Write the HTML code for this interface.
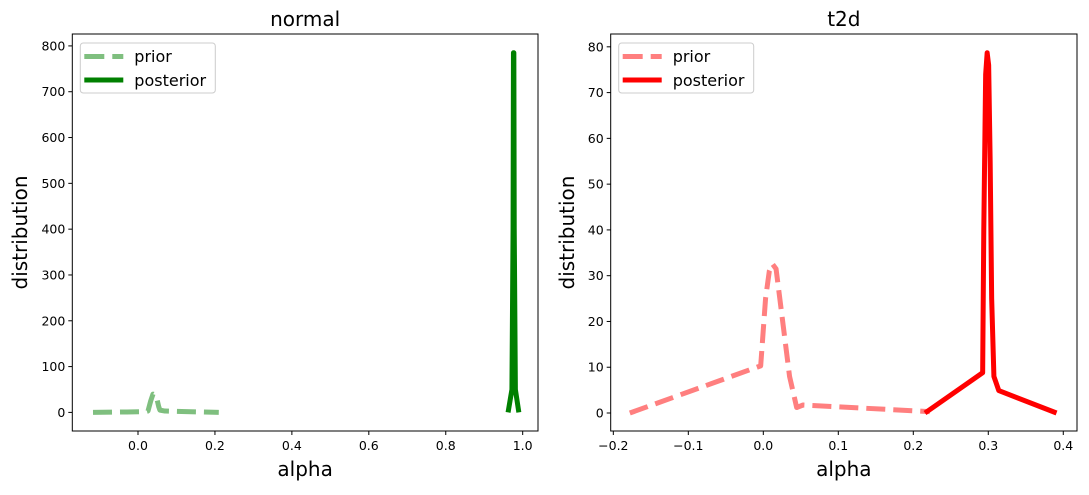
<!DOCTYPE html>
<html><head><meta charset="utf-8"><style>
body{margin:0;background:#fff;font-family:"Liberation Sans","DejaVu Sans",sans-serif}
svg text{font-family:"DejaVu Sans","Liberation Sans",sans-serif}
</style></head><body>
<svg id="chart" width="1089" height="490" viewBox="0 0 1089 490" xmlns="http://www.w3.org/2000/svg"></svg>
<script>
// normal panel data
const normalPriorX = [-0.117, 0.02, 0.026, 0.033, 0.039, 0.045, 0.049, 0.054, 0.057, 0.07, 0.21];
const normalPriorY = [0, 1.5, 3, 25, 40, 37, 30, 12, 5, 3, 0];
const normalPostX = [0.962, 0.972, 0.975, 0.976, 0.977, 0.978, 0.981, 0.99];
const normalPostY = [0, 50, 400, 785, 785, 400, 50, 0];
const normalXTicks = [0.0, 0.2, 0.4, 0.6, 0.8, 1.0];
const normalYTicks = [0, 100, 200, 300, 400, 500, 600, 700, 800];
// t2d panel data
const t2dPriorX = [-0.178, -0.0035, 0.003, 0.008, 0.012, 0.017, 0.022, 0.035, 0.0445, 0.053, 0.222];
const t2dPriorY = [0, 10.3, 25, 31, 32.6, 31.5, 25, 8, 1.2, 1.75, 0.3];
const t2dPostX = [0.2156, 0.2925, 0.294, 0.2965, 0.2985, 0.3005, 0.3025, 0.3045, 0.3075, 0.314, 0.391];
const t2dPostY = [0, 8.8, 40, 74, 78.7, 76, 55, 25, 8, 4.9, 0];
const t2dXTicks = [-0.2, -0.1, 0.0, 0.1, 0.2, 0.3, 0.4];
const t2dYTicks = [0, 10, 20, 30, 40, 50, 60, 70, 80];

const NS = "http://www.w3.org/2000/svg";
const svg = document.getElementById('chart');
function mk(tag, attrs, parent){const e=document.createElementNS(NS,tag);for(const k in attrs)e.setAttribute(k,attrs[k]);(parent||svg).appendChild(e);return e;}

function panel(cfg){
  const g = mk('g',{});
  
  
  const {L,R,T,B,x0,x1,y0,y1} = cfg;
  const sx = v => L + (v - x0) / (x1 - x0) * (R - L);
  const sy = v => B - (v - y0) / (y1 - y0) * (B - T);
  const pts = (xs, ys) => xs.map((x,i)=>sx(x).toFixed(2)+','+sy(ys[i]).toFixed(2)).join(' ');
  const pr = mk('polyline',{points:pts(cfg.px,cfg.py),fill:'none',stroke:cfg.color,'stroke-opacity':0.5,'stroke-width':5,'stroke-dasharray':'19 8','stroke-linejoin':'round'},g);
  
  
  const po = mk('polyline',{points:pts(cfg.qx,cfg.qy),fill:'none',stroke:cfg.color,'stroke-width':5,'stroke-linejoin':'round'},g);
  
  
  const fr = mk('rect',{x:L,y:T,width:R-L,height:B-T,fill:'none',stroke:'#000','stroke-width':1},g);
  
  
  cfg.xt.forEach(v=>{
    const x=sx(v);
    mk('line',{x1:x,x2:x,y1:B,y2:B+4,stroke:'#000'},g);
    const t=mk('text',{x:x,y:B+19,'font-size':12.5,'text-anchor':'middle'},g);
    t.textContent = v.toFixed(1).replace('-','\u2212');
    
    
  });
  cfg.yt.forEach(v=>{
    const y=sy(v);
    mk('line',{x1:L-4,x2:L,y1:y,y2:y,stroke:'#000'},g);
    const t=mk('text',{x:L-7,y:y+4.5,'font-size':12.5,'text-anchor':'end'},g);
    t.textContent = String(v);
    
    
  });
  const title=mk('text',{x:(L+R)/2,y:26,'font-size':20,'text-anchor':'middle'},g);
  title.textContent=cfg.name;
  
  
  const xl=mk('text',{x:(L+R)/2,y:476,'font-size':20,'text-anchor':'middle'},g);
  xl.textContent='alpha';
  
  
  const yx = cfg.ylx, yy=(T+B)/2;
  const yl=mk('text',{x:yx,y:yy,'font-size':20,'text-anchor':'middle',transform:`rotate(-90 ${yx} ${yy})`},g);
  yl.textContent='distribution';
  
  
  const lg = mk('g',{},g);
  
  
  mk('rect',{x:L+8,y:T+9,width:135,height:50,rx:3,fill:'#fff',stroke:'#ccc'},lg);
  mk('line',{x1:L+12,x2:L+51,y1:T+22.5,y2:T+22.5,stroke:cfg.color,'stroke-opacity':0.5,'stroke-width':5,'stroke-dasharray':'20 8'},lg);
  mk('line',{x1:L+12,x2:L+51,y1:T+46,y2:T+46,stroke:cfg.color,'stroke-width':5},lg);
  const t1=mk('text',{x:L+62,y:T+28,'font-size':16},lg); t1.textContent='prior';
  
  
  const t2=mk('text',{x:L+62,y:T+52,'font-size':16},lg); t2.textContent='posterior';
  
  
}
panel({name:'normal',L:72.3,R:538,T:34,B:431,x0:-0.1708,x1:1.0398,y0:-40.6,y1:826,
  px:normalPriorX,py:normalPriorY,qx:normalPostX,qy:normalPostY,xt:normalXTicks,yt:normalYTicks,color:'green',ylx:27});
panel({name:'t2d',L:610.7,R:1077,T:34,B:431,x0:-0.2035,x1:0.4183,y0:-3.93,y1:82.8,
  px:t2dPriorX,py:t2dPriorY,qx:t2dPostX,qy:t2dPostY,xt:t2dXTicks,yt:t2dYTicks,color:'red',ylx:574});
</script>
</body></html>
